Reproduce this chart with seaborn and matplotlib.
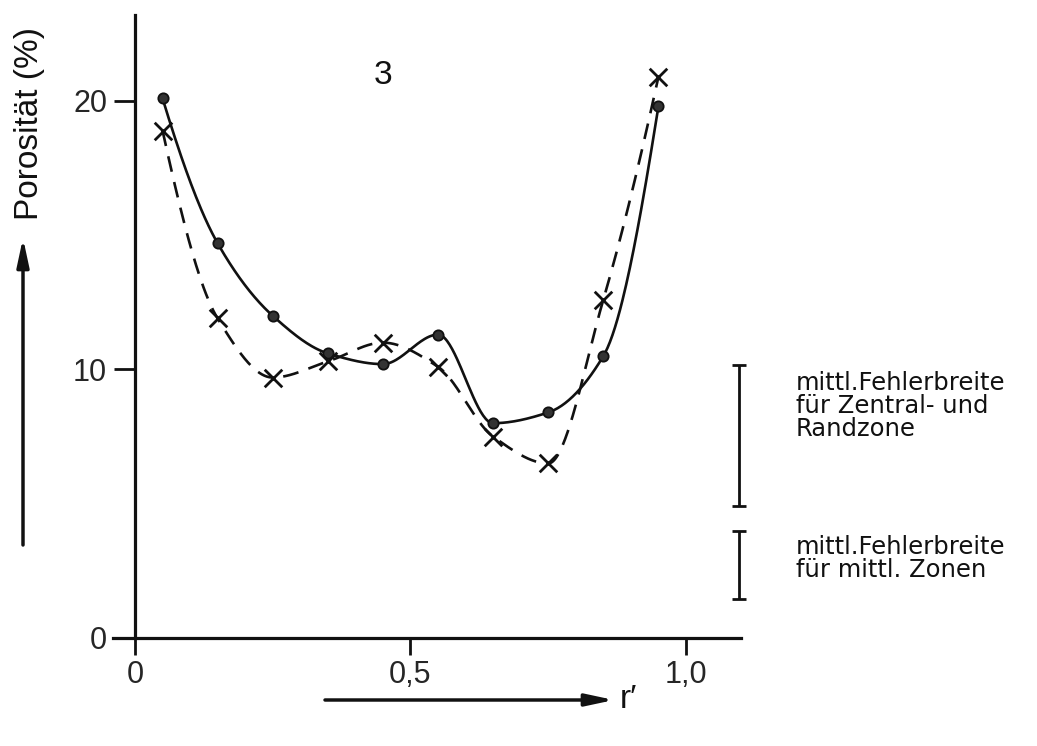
import numpy as np
import pandas as pd
import matplotlib
matplotlib.use("Agg")
import matplotlib.pyplot as plt
import seaborn as sns

# ---------------- data ----------------
r_pos = [0.05, 0.15, 0.25, 0.35, 0.45, 0.55, 0.65, 0.75, 0.85, 0.95]
por_solid = [20.1, 14.7, 12.0, 10.6, 10.2, 11.3, 8.0, 8.4, 10.5, 19.8]
por_dashed = [18.9, 11.9, 9.7, 10.3, 11.0, 10.1, 7.5, 6.5, 12.6, 20.9]

err_x = 1.097
err_low = [4.9, 1.45]
err_high = [10.15, 4.0]
err_text = ["mittl.Fehlerbreite\nfür Zentral- und\nRandzone",
            "mittl.Fehlerbreite\nfür mittl. Zonen"]
err_text_y = [8.65, 2.95]

xtick_vals = [0, 0.5, 1.0]
xtick_labels = ["0", "0,5", "1,0"]
ytick_vals = [0, 10, 20]
ytick_labels = ["0", "10", "20"]
panel_label = "3"
y_label = "Porosität (%)"
x_label = "r′"


def pchip(x, y, xn):
    x = np.asarray(x, float); y = np.asarray(y, float)
    n = len(x)
    h = np.diff(x); delta = np.diff(y) / h
    d = np.zeros(n)
    for k in range(1, n - 1):
        if delta[k - 1] * delta[k] > 0:
            w1 = 2 * h[k] + h[k - 1]; w2 = h[k] + 2 * h[k - 1]
            d[k] = (w1 + w2) / (w1 / delta[k - 1] + w2 / delta[k])
    def endslope(h0, h1, d0, d1):
        s = ((2 * h0 + h1) * d0 - h0 * d1) / (h0 + h1)
        if np.sign(s) != np.sign(d0):
            s = 0.0
        elif np.sign(d0) != np.sign(d1) and abs(s) > abs(3 * d0):
            s = 3 * d0
        return s
    d[0] = endslope(h[0], h[1], delta[0], delta[1])
    d[-1] = endslope(h[-1], h[-2], delta[-1], delta[-2])
    idx = np.clip(np.searchsorted(x, xn) - 1, 0, n - 2)
    t = (xn - x[idx]) / h[idx]
    h00 = 2 * t**3 - 3 * t**2 + 1; h10 = t**3 - 2 * t**2 + t
    h01 = -2 * t**3 + 3 * t**2; h11 = t**3 - t**2
    return h00 * y[idx] + h10 * h[idx] * d[idx] + h01 * y[idx + 1] + h11 * h[idx] * d[idx + 1]


xs = np.linspace(r_pos[0], r_pos[-1], 400)
curves = pd.concat([
    pd.DataFrame({"r": xs, "p": pchip(r_pos, por_solid, xs), "series": "solid"}),
    pd.DataFrame({"r": xs, "p": pchip(r_pos, por_dashed, xs), "series": "dashed"}),
])
pts_solid = pd.DataFrame({"r": r_pos, "p": por_solid})
pts_dashed = pd.DataFrame({"r": r_pos, "p": por_dashed})

sns.set_theme(style="white")
plt.rcParams["font.family"] = ["Liberation Sans", "DejaVu Sans"]

fig = plt.figure(figsize=(10.37, 7.46), dpi=100)
ax = fig.add_axes([0.1036, 0.1196, 0.6376, 0.871])
ax.set_xlim(-0.05, 1.15)
ax.set_ylim(-0.7, 23.5)

ink = "#111111"
sns.lineplot(data=curves, x="r", y="p", style="series",
             dashes={"solid": "", "dashed": (6, 4)}, color=ink, lw=1.9,
             estimator=None, sort=False, legend=False, ax=ax)
sns.scatterplot(data=pts_solid, x="r", y="p", marker="o", s=55, color="#333333",
                edgecolor=ink, linewidth=1.3, ax=ax, zorder=5)
sns.scatterplot(data=pts_dashed, x="r", y="p", marker="x", s=160, color=ink,
                linewidth=2.0, ax=ax, zorder=5)

# axes styling
for s in ["top", "right"]:
    ax.spines[s].set_visible(False)
ax.spines["left"].set_position(("data", 0))
ax.spines["bottom"].set_position(("data", 0))
ax.spines["left"].set_bounds(0, 23.2)
ax.spines["bottom"].set_bounds(-0.04, 1.1)
for s in ["left", "bottom"]:
    ax.spines[s].set_linewidth(2.3)
    ax.spines[s].set_color(ink)
ax.set_xticks(xtick_vals, xtick_labels)
ax.set_yticks(ytick_vals, ytick_labels)
ax.tick_params(axis="x", direction="out", length=12, width=2.0, color=ink,
               labelsize=22, pad=4, bottom=True)
ax.tick_params(axis="y", direction="out", length=15, width=2.0, color=ink,
               labelsize=22, pad=5, left=True)
ax.set_xlabel("")
ax.set_ylabel("")

# panel label
ax.text(0.45, 20.95, panel_label, fontsize=24, ha="center", va="center", color=ink)

# error-width bars with text
for lo, hi, txt, ty in zip(err_low, err_high, err_text, err_text_y):
    mid = (lo + hi) / 2
    ax.errorbar([err_x], [mid], yerr=[[mid - lo], [hi - mid]], fmt="none",
                ecolor=ink, elinewidth=2.0, capsize=5, capthick=2.0, clip_on=False)
    ax.text(err_x + 0.102, ty, txt, fontsize=17.5, ha="left", va="center",
            color=ink, linespacing=0.95, family=["DejaVu Sans"], clip_on=False)

# axis arrows & labels (figure pixel coords)
H = 746
ax.annotate("", xy=(23, H - 238), xytext=(23, H - 545), xycoords="figure pixels",
            textcoords="figure pixels",
            arrowprops=dict(arrowstyle="-|>,head_length=1.4,head_width=0.3",
                            lw=2.5, color=ink, shrinkA=0, shrinkB=0))
fig.text(30 / 1037, 1 - 124 / H, y_label, rotation=90, fontsize=24,
         ha="center", va="center", color=ink)
ax.annotate("", xy=(614, H - 700), xytext=(325, H - 700), xycoords="figure pixels",
            textcoords="figure pixels",
            arrowprops=dict(arrowstyle="-|>,head_length=1.4,head_width=0.3",
                            lw=2.5, color=ink, shrinkA=0, shrinkB=0))
fig.text(620 / 1037, 1 - 700 / H, x_label, fontsize=24, ha="left", va="center",
         color=ink)

fig.savefig("out.png", dpi=100)
